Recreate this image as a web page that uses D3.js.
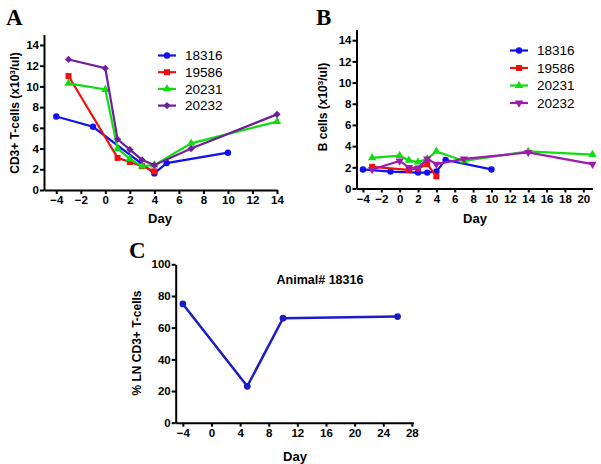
<!DOCTYPE html>
<html><head><meta charset="utf-8">
<script src="https://cdn.jsdelivr.net/npm/d3@7/dist/d3.min.js"></script>
<style>body{margin:0;background:#fff}svg{display:block}</style>
</head><body>
<svg id="c" width="601" height="464"></svg>
<script>
// ---- Data ----
const animals = ["18316", "19586", "20231", "20232"];
// Panel A: CD3+ T-cells (x10^3/ul)
const a18316 = [[-4,7.1],[-1,6.1],[4,1.6],[5,2.6],[10,3.6]];
const a19586 = [[-3,11.0],[1,3.1],[2,2.7],[3,2.3],[4,1.8]];
const a20231 = [[-3,10.3],[0,9.7],[1,4.0],[2,3.0],[3,2.3],[4,2.4],[7,4.5],[14,6.6]];
const a20232 = [[-3,12.6],[0,11.75],[1,4.9],[2,3.9],[3,2.9],[4,2.4],[7,4.0],[14,7.3]];
// Panel B: B cells (x10^3/ul)
const b18316 = [[-4,1.8],[-1,1.6],[2,1.5],[3,1.5],[4,1.6],[5,2.7],[10,1.8]];
const b19586 = [[-3,2.05],[1,1.75],[2,1.9],[3,2.3],[4,1.15]];
const b20231 = [[-3,2.9],[0,3.1],[1,2.65],[2,2.5],[3,2.8],[4,3.5],[7,2.6],[14,3.5],[21,3.2]];
const b20232 = [[-3,1.8],[0,2.6],[1,2.0],[2,1.9],[3,2.8],[4,2.3],[7,2.8],[14,3.4],[21,2.3]];
// Panel C: % LN CD3+ T-cells, animal 18316
const c18316 = [[-4,75],[5,23],[10,66],[26,67]];
// Tick labels
const ticksAX = [-4,-2,0,2,4,6,8,10,12,14];
const ticksAY = [0,2,4,6,8,10,12,14];
const ticksBX = [-4,-2,0,2,4,6,8,10,12,14,16,18,20];
const ticksBY = [0,2,4,6,8,10,12,14];
const ticksCX = [-4,0,4,8,12,16,20,24,28];
const ticksCY = [0,20,40,60,80,100];

const svg = d3.select("#c");
const FONT = "'Liberation Sans', Arial, Helvetica, sans-serif";

function panel(o){
  const g = svg.append("g");
  const x = d3.scaleLinear().domain(o.xd).range(o.xr);
  const y = d3.scaleLinear().domain(o.yd).range(o.yr);
  const xa = g.append("g").attr("transform",`translate(0,${o.yr[0]})`)
    .call(d3.axisBottom(x).tickValues(o.xt).tickSize(4).tickSizeOuter(0).tickPadding(2));
  const ya = g.append("g").attr("transform",`translate(${o.xr[0]},0)`)
    .call(d3.axisLeft(y).tickValues(o.yt).tickSize(4).tickSizeOuter(0).tickPadding(1));
  [xa,ya].forEach(a=>{
    a.select(".domain").attr("stroke","#000").attr("stroke-width",2);
    a.selectAll(".tick line").attr("stroke","#000").attr("stroke-width",2);
    a.selectAll("text").attr("fill","#000").attr("font-family",FONT)
      .attr("font-weight","bold").attr("font-size",11.5);
  });
  // titles
  g.append("text").attr("x",o.xTitle[0]).attr("y",o.xTitle[1]).attr("text-anchor","middle")
    .attr("font-family",FONT).attr("font-weight","bold").attr("font-size",13).text("Day");
  const yt = g.append("text").attr("transform",`translate(${o.yTitle[0]},${o.yTitle[1]}) rotate(-90)`)
    .attr("text-anchor","middle").attr("font-family",FONT).attr("font-weight","bold").attr("font-size",12);
  o.yLabel(yt);
  g.append("text").attr("x",o.letter[0]).attr("y",o.letter[1])
    .attr("font-family","'Liberation Serif','Times New Roman',serif").attr("font-weight","bold")
    .attr("font-size",23).text(o.letterText);
  // series
  const line = d3.line().x(d=>x(d[0])).y(d=>y(d[1]));
  o.series.forEach(s=>{
    g.append("path").datum(s.data).attr("d",line).attr("fill","none")
      .attr("stroke",s.color).attr("stroke-width",s.lw||2.2);
    g.selectAll(null).data(s.data).enter().append("path")
      .attr("transform",d=>`translate(${x(d[0])},${y(d[1])})${s.rot||""}`)
      .attr("d",d3.symbol().type(s.sym).size(s.size)).attr("fill",s.color);
  });
  // legend
  if(o.legend){
    o.series.forEach((s,i)=>{
      const ly = o.legend.y0 + i*o.legend.dy;
      g.append("line").attr("x1",o.legend.x).attr("x2",o.legend.x+18).attr("y1",ly).attr("y2",ly)
        .attr("stroke",s.color).attr("stroke-width",2.2);
      g.append("path").attr("transform",`translate(${o.legend.x+9},${ly})${s.rot||""}`)
        .attr("d",d3.symbol().type(s.sym).size(s.size)).attr("fill",s.color);
      g.append("text").attr("x",o.legend.x+27).attr("y",ly).attr("dy","0.36em")
        .attr("font-family",FONT).attr("font-size",13.5).text(s.name);
    });
  }
  return {g,x,y};
}

function cdLabel(t, pre){
  t.append("tspan").text(pre+" (x10");
  t.append("tspan").attr("baseline-shift","super").attr("font-size",8).text("3");
  t.append("tspan").text("/ul)");
}

const blue="#1010f0", red="#f01010", green="#10dd10", purpleA="#6f1f9a", purpleB="#a01aae";

panel({
  xd:[-5,14], xr:[44,277], yd:[0,15], yr:[190,34.6],
  xt:ticksAX, yt:ticksAY, xTitle:[160,223], yTitle:[19,113],
  yLabel:t=>cdLabel(t,"CD3+ T-cells"), letter:[6,25], letterText:"A",
  legend:{x:158,y0:55.5,dy:16.7},
  series:[
    {name:animals[0],data:a18316,color:blue,sym:d3.symbolCircle,size:32},
    {name:animals[1],data:a19586,color:red,sym:d3.symbolSquare,size:36},
    {name:animals[2],data:a20231,color:green,sym:d3.symbolTriangle,size:30},
    {name:animals[3],data:a20232,color:purpleA,sym:d3.symbolSquare,size:26,rot:" rotate(45)"}
  ]
});

panel({
  xd:[-4.7,21], xr:[356.5,592.5], yd:[0,15], yr:[188.5,29.6],
  xt:ticksBX, yt:ticksBY, xTitle:[475,223], yTitle:[327,107],
  yLabel:t=>cdLabel(t,"B cells"), letter:[316,25], letterText:"B",
  legend:{x:510,y0:50.5,dy:17.5},
  series:[
    {name:animals[0],data:b18316,color:blue,sym:d3.symbolCircle,size:32},
    {name:animals[1],data:b19586,color:red,sym:d3.symbolSquare,size:36},
    {name:animals[2],data:b20231,color:green,sym:d3.symbolTriangle,size:30},
    {name:animals[3],data:b20232,color:purpleB,sym:d3.symbolTriangle,size:30,rot:" rotate(180)"}
  ]
});

const pc = panel({
  xd:[-5,28.2], xr:[175.7,413.3], yd:[0,100], yr:[422.7,264.3],
  xt:ticksCX, yt:ticksCY, xTitle:[295,461], yTitle:[141,343],
  yLabel:t=>t.text("% LN CD3+ T-cells"), letter:[129,258], letterText:"C",
  series:[
    {name:animals[0],data:c18316,color:"#1c1cc4",sym:d3.symbolCircle,size:36,lw:2.5}
  ]
});
pc.g.append("text").attr("x",320).attr("y",284).attr("text-anchor","middle")
  .attr("font-family",FONT).attr("font-weight","bold").attr("font-size",12.5).text("Animal# 18316");
</script>
</body></html>
